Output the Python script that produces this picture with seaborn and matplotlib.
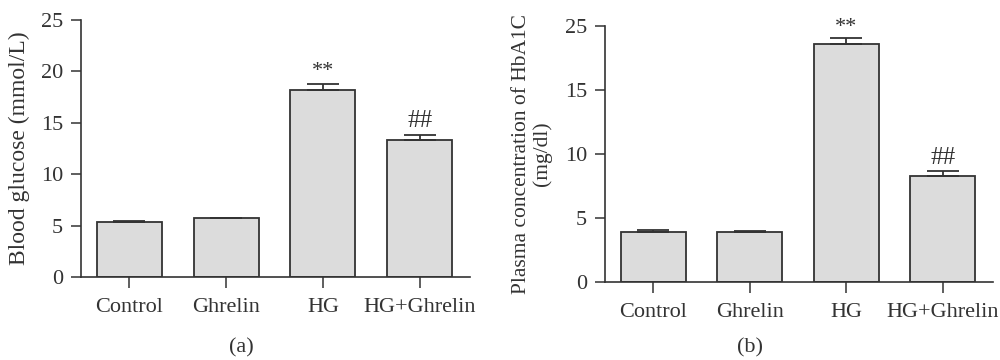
import numpy as np
import pandas as pd
import matplotlib
matplotlib.use("Agg")
import matplotlib.pyplot as plt
import seaborn as sns

# data
groups = ["Control", "Ghrelin", "HG", "HG+Ghrelin"]

glucose_mean = [5.39, 5.71, 18.21, 13.34]
glucose_err = [0.10, 0.07, 0.59, 0.49]
glucose_marks = ["", "", "**", "##"]

hba1c_mean = [3.90, 3.90, 18.57, 8.32]
hba1c_err = [0.13, 0.08, 0.47, 0.39]
hba1c_marks = ["", "", "**", "##"]

hba1c_ticks = [0, 5, 10, 15, 20]
hba1c_ticklabels = ["0", "5", "10", "15", "25"]  # as printed in the original

sns.set_theme(style="ticks")
plt.rcParams["font.family"] = ["Liberation Serif", "DejaVu Serif"]
txt = "#333333"
plt.rcParams["text.color"] = txt
plt.rcParams["axes.labelcolor"] = txt
plt.rcParams["xtick.color"] = txt
plt.rcParams["ytick.color"] = txt

fill = "#dcdcdc"
edge = "#333333"
fs = 16

fig = plt.figure(figsize=(10, 3.6), dpi=100)
ax_a = fig.add_axes([0.081, 0.2306, 0.389, 0.714])
ax_b = fig.add_axes([0.605, 0.2167, 0.388, 0.711])


def panel(ax, means, errs, marks, ymax, mark_pad):
    df = pd.DataFrame({"group": groups, "value": means})
    sns.barplot(data=df, x="group", y="value", color=fill, edgecolor=edge,
                linewidth=1.3, width=0.67, saturation=1, ax=ax)
    xs = np.arange(len(groups))
    ax.errorbar(xs, means, yerr=[np.zeros(len(errs)), errs], fmt="none",
                ecolor=edge, elinewidth=1.3, capsize=11.5, capthick=1.3)
    for x, m, e, s in zip(xs, means, errs, marks):
        if s:
            size = fs + 2 if s == "##" else fs
            ax.text(x, m + e + mark_pad, s, ha="center", va="bottom",
                    fontsize=size, color=txt, clip_on=False)
    ax.set_xlim(-0.5, 3.52)
    ax.set_ylim(0, ymax)
    sns.despine(ax=ax)
    for side in ("left", "bottom"):
        ax.spines[side].set_color(edge)
        ax.spines[side].set_linewidth(1.2)
    ax.tick_params(axis="both", direction="out", length=7, width=1.1,
                   labelsize=fs, color=edge, pad=6)
    ax.tick_params(axis="x", length=8, pad=7)
    ax.set_xlabel("")


panel(ax_a, glucose_mean, glucose_err, glucose_marks, 25, 0.25)
ax_a.set_yticks([0, 5, 10, 15, 20, 25])
ax_a.set_ylabel("Blood glucose (mmol/L)", fontsize=fs + 1, labelpad=8)

panel(ax_b, hba1c_mean, hba1c_err, hba1c_marks, 20, 0.1)
ax_b.set_yticks(hba1c_ticks)
ax_b.set_yticklabels(hba1c_ticklabels)
ax_b.set_ylabel("Plasma concentration of HbA1C\n(mg/dl)", fontsize=15.5,
                labelpad=9, linespacing=1.1)

for a in (ax_a, ax_b):
    for lab in a.get_xticklabels() + a.get_yticklabels():
        lab.set_fontsize(fs)

fig.text(0.241, 0.035, "(a)", ha="center", va="center", fontsize=fs)
fig.text(0.750, 0.035, "(b)", ha="center", va="center", fontsize=fs)

fig.savefig("out.png", dpi=100, facecolor="white")
